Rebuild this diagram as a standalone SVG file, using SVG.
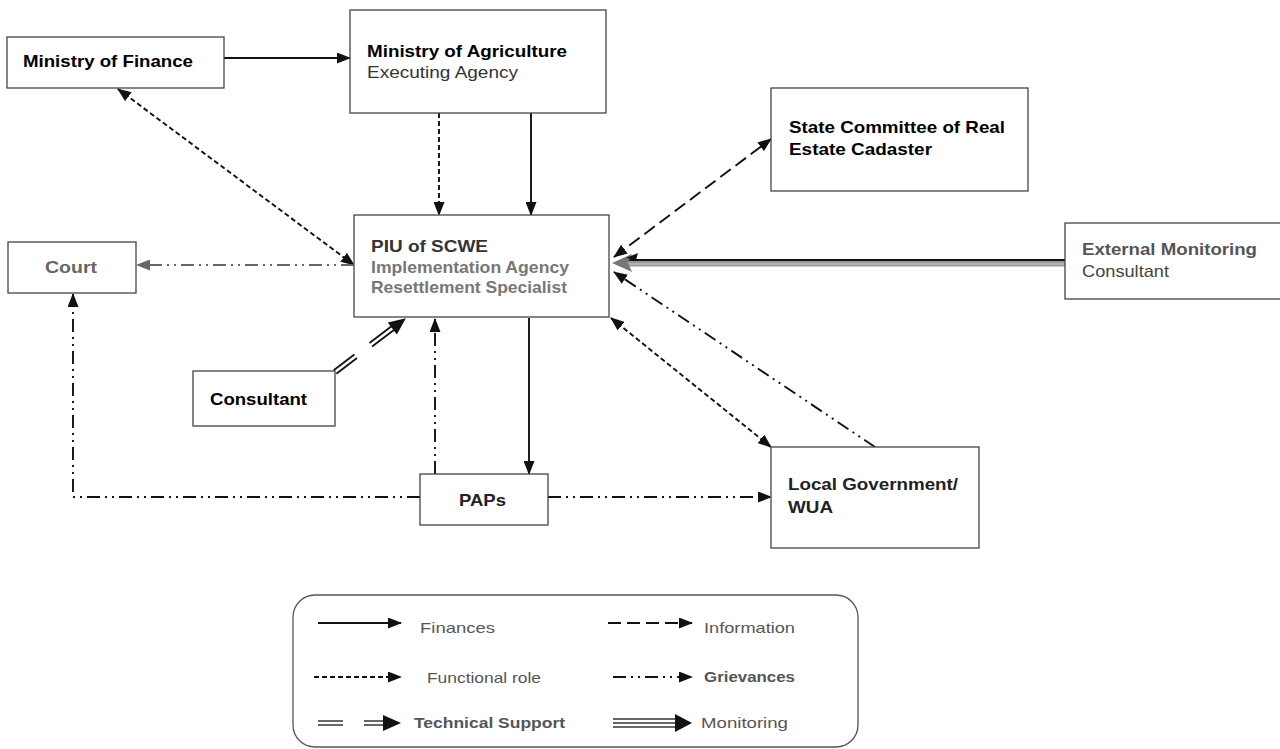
<svg xmlns="http://www.w3.org/2000/svg" width="1280" height="749" viewBox="0 0 1280 749">
  <style>
    .box { fill: #fff; stroke: #444; stroke-width: 1.3; }
    .t { font-family: "Liberation Sans", Arial, sans-serif; font-size: 17px; }
    .b { font-weight: bold; }
    .lg { font-family: "Liberation Sans", Arial, sans-serif; font-size: 15px; fill: #555; }
    .ln { fill: none; stroke: #111; stroke-width: 1.9; }
    .info { stroke-dasharray: 13 6; }
    .func { stroke-dasharray: 5 3; }
    .griev { stroke-dasharray: 13 5 2 5 2 5; }
  </style>
  <defs>
    <marker id="ah" viewBox="0 0 14 11" refX="13" refY="5.5" markerWidth="14" markerHeight="11" markerUnits="userSpaceOnUse" orient="auto-start-reverse">
      <path d="M0,0 L14,5.5 L0,11 z" fill="#111"/>
    </marker>
    <marker id="ahg" viewBox="0 0 14 11" refX="13" refY="5.5" markerWidth="14" markerHeight="11" markerUnits="userSpaceOnUse" orient="auto-start-reverse">
      <path d="M0,0 L14,5.5 L0,11 z" fill="#666"/>
    </marker>
  </defs>

  <!-- connectors -->
  <g id="connectors">
    <!-- Finance to Agriculture -->
    <path class="ln" d="M224,58 H350" marker-end="url(#ah)"/>
    <!-- Agriculture to PIU -->
    <path class="ln func" d="M439,113 V215" marker-end="url(#ah)"/>
    <path class="ln" d="M531,113 V215" marker-end="url(#ah)"/>
    <!-- Finance <-> PIU -->
    <path class="ln func" d="M118,89 L354,265" marker-start="url(#ah)" marker-end="url(#ah)"/>
    <!-- PIU to Court -->
    <path class="ln griev" style="stroke:#666" d="M354,265 H137" marker-end="url(#ahg)"/>
    <!-- PIU <-> State Committee -->
    <path class="ln info" d="M614,257 L771,139" marker-start="url(#ah)" marker-end="url(#ah)"/>
    <!-- External Monitoring to PIU -->
    <g id="monitoring-line">
      <path d="M1065,263 H628" fill="none" stroke="#999" stroke-width="7"/>
      <path d="M1065,260 H628" fill="none" stroke="#111" stroke-width="2"/>
      <path d="M1065,264 H628" fill="none" stroke="#ccc" stroke-width="1"/>
      <path d="M612,263 L632,254 L628,263 L632,272 z" fill="#777"/>
      <path d="M626,258 L638,253 L636,260 z" fill="#111"/>
    </g>
    <!-- Local Government to PIU -->
    <path class="ln griev" d="M875,447 L614,272" marker-end="url(#ah)"/>
    <!-- PIU <-> Local Government -->
    <path class="ln func" d="M611,318 L771,447" marker-start="url(#ah)" marker-end="url(#ah)"/>
    <!-- Consultant to PIU (technical support) -->
    <g transform="translate(335,372) rotate(-37.25)">
      <path d="M0,-2.2 H26 M0,2.2 H26 M45,-2.2 H76 M45,2.2 H76" fill="none" stroke="#111" stroke-width="1.8"/>
      <path d="M72,-7.5 L89,0 L72,7.5 z" fill="#111"/>
    </g>
    <!-- PAPs to PIU -->
    <path class="ln griev" d="M435,474 V319" marker-end="url(#ah)"/>
    <!-- PIU to PAPs -->
    <path class="ln" d="M529,318 V474" marker-end="url(#ah)"/>
    <!-- PAPs to Court -->
    <path class="ln griev" d="M420,497 H73 V294" marker-end="url(#ah)"/>
    <!-- PAPs to Local Government -->
    <path class="ln griev" d="M548,497 H771" marker-end="url(#ah)"/>
  </g>

  <!-- nodes -->
  <g id="ministry-finance">
    <rect class="box" x="7" y="37" width="217" height="51"/>
    <text class="t b" x="23" y="67" textLength="170" lengthAdjust="spacingAndGlyphs">Ministry of Finance</text>
  </g>
  <g id="ministry-agriculture">
    <rect class="box" x="350" y="10" width="256" height="103"/>
    <text class="t b" x="367" y="57" textLength="200" lengthAdjust="spacingAndGlyphs">Ministry of Agriculture</text>
    <text class="t" x="367" y="78" fill="#333" textLength="151" lengthAdjust="spacingAndGlyphs">Executing Agency</text>
  </g>
  <g id="state-committee">
    <rect class="box" x="771" y="88" width="257" height="103"/>
    <text class="t b" x="789" y="133" textLength="216" lengthAdjust="spacingAndGlyphs">State Committee of Real</text>
    <text class="t b" x="789" y="155" textLength="143" lengthAdjust="spacingAndGlyphs">Estate Cadaster</text>
  </g>
  <g id="court">
    <rect class="box" x="8" y="242" width="128" height="51"/>
    <text class="t b" x="45" y="273" fill="#666" textLength="52" lengthAdjust="spacingAndGlyphs">Court</text>
  </g>
  <g id="piu">
    <rect class="box" x="354" y="215" width="255" height="102"/>
    <text class="t b" x="371" y="252" fill="#333" textLength="117" lengthAdjust="spacingAndGlyphs">PIU of SCWE</text>
    <text class="t b" x="371" y="273" fill="#777" textLength="198" lengthAdjust="spacingAndGlyphs">Implementation Agency</text>
    <text class="t b" x="371" y="293" fill="#777" textLength="196" lengthAdjust="spacingAndGlyphs">Resettlement Specialist</text>
  </g>
  <g id="external-monitoring">
    <rect class="box" x="1065" y="223" width="220" height="76"/>
    <text class="t b" x="1082" y="255" fill="#555" textLength="175" lengthAdjust="spacingAndGlyphs">External Monitoring</text>
    <text class="t" x="1082" y="277" fill="#444" textLength="87" lengthAdjust="spacingAndGlyphs">Consultant</text>
  </g>
  <g id="consultant">
    <rect class="box" x="193" y="371" width="142" height="55"/>
    <text class="t b" x="210" y="405" textLength="97" lengthAdjust="spacingAndGlyphs">Consultant</text>
  </g>
  <g id="paps">
    <rect class="box" x="420" y="474" width="128" height="51"/>
    <text class="t b" x="459" y="506" fill="#222" textLength="47" lengthAdjust="spacingAndGlyphs">PAPs</text>
  </g>
  <g id="local-government">
    <rect class="box" x="771" y="447" width="208" height="101"/>
    <text class="t b" x="788" y="490" fill="#222" textLength="170" lengthAdjust="spacingAndGlyphs">Local Government/</text>
    <text class="t b" x="788" y="513" fill="#222" textLength="45" lengthAdjust="spacingAndGlyphs">WUA</text>
  </g>

  <!-- legend -->
  <g id="legend">
    <rect x="293" y="595" width="565" height="152" rx="22" ry="22" fill="#fff" stroke="#555" stroke-width="1.3"/>
    <path class="ln" d="M318,623 H401" marker-end="url(#ah)"/>
    <text class="lg" x="420" y="633" textLength="75" lengthAdjust="spacingAndGlyphs">Finances</text>
    <path class="ln info" d="M608,623 H692" marker-end="url(#ah)"/>
    <text class="lg" x="704" y="633" textLength="91" lengthAdjust="spacingAndGlyphs">Information</text>
    <path class="ln func" d="M314,677 H401" marker-end="url(#ah)"/>
    <text class="lg" x="427" y="683" textLength="114" lengthAdjust="spacingAndGlyphs">Functional role</text>
    <path class="ln griev" d="M613,677 H692" marker-end="url(#ah)"/>
    <text class="lg b" x="704" y="682" textLength="91" lengthAdjust="spacingAndGlyphs">Grievances</text>
    <g>
      <path d="M318,721 H343 M318,725 H343 M364,721 H386 M364,725 H386" fill="none" stroke="#666" stroke-width="1.8"/>
      <path d="M383,715 L401,723 L383,731 z" fill="#111"/>
    </g>
    <text class="lg b" x="414" y="728" textLength="151" lengthAdjust="spacingAndGlyphs">Technical Support</text>
    <g>
      <path d="M613,719 H680 M613,723 H680 M613,727 H680" fill="none" stroke="#666" stroke-width="1.8"/>
      <path d="M675,714 L692,723 L675,732 z" fill="#111"/>
    </g>
    <text class="lg" x="701" y="728" textLength="87" lengthAdjust="spacingAndGlyphs">Monitoring</text>
  </g>
</svg>
